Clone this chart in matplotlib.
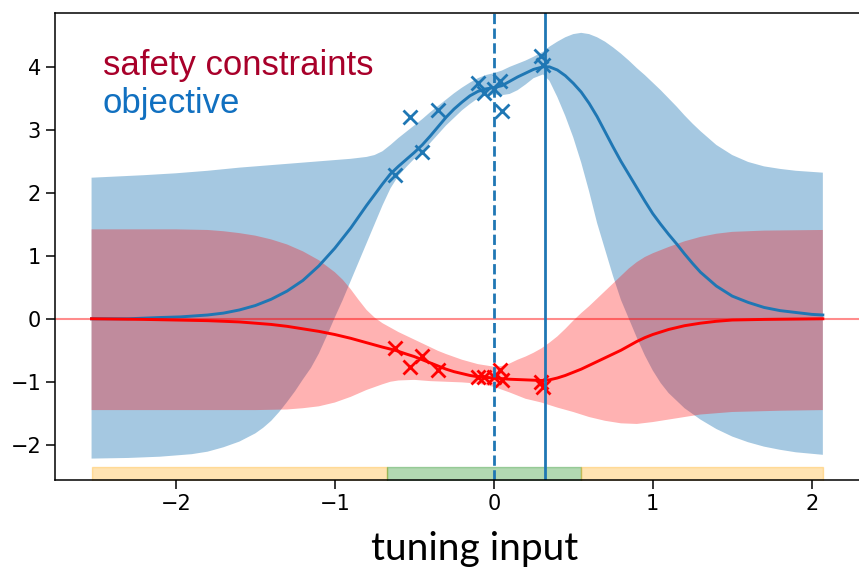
import matplotlib
matplotlib.use("Agg")
import matplotlib.pyplot as plt
import numpy as np

# ---------------- data ----------------
# objective GP: posterior mean
obj_mean_x = [-2.53, -2.3, -2.1, -1.97, -1.8, -1.7, -1.6, -1.5, -1.4, -1.3, -1.2, -1.1, -1.0,
              -0.9, -0.8, -0.7, -0.65, -0.6, -0.55, -0.5, -0.45, -0.4, -0.35, -0.3, -0.25,
              -0.2, -0.15, -0.1, -0.05, 0.0, 0.05, 0.1, 0.15, 0.2, 0.25, 0.31, 0.35, 0.4, 0.45,
              0.5, 0.55, 0.6, 0.65, 0.7, 0.75, 0.8, 0.85, 0.9, 0.95, 1.0, 1.05, 1.1, 1.15, 1.2,
              1.25, 1.3, 1.4, 1.5, 1.6, 1.7, 1.8, 1.9, 2.0, 2.07]
obj_mean_y = [0.0, 0.0, 0.02, 0.03, 0.06, 0.09, 0.14, 0.21, 0.31, 0.44, 0.61, 0.84, 1.12,
              1.44, 1.80, 2.14, 2.30, 2.42, 2.53, 2.64, 2.76, 2.90, 3.05, 3.20, 3.33,
              3.44, 3.54, 3.61, 3.65, 3.67, 3.70, 3.77, 3.84, 3.90, 3.96, 4.00, 4.00, 3.95, 3.86,
              3.74, 3.60, 3.42, 3.21, 2.97, 2.73, 2.50, 2.29, 2.08, 1.87, 1.67, 1.50, 1.34, 1.19,
              1.03, 0.88, 0.74, 0.52, 0.36, 0.26, 0.18, 0.13, 0.10, 0.07, 0.06]

# objective GP: upper edge of the confidence band
obj_up_x = [-2.53, -2.2, -2.0, -1.8, -1.6, -1.4, -1.2, -1.0, -0.9, -0.8, -0.75, -0.7, -0.65,
            -0.6, -0.55, -0.5, -0.45, -0.4, -0.35, -0.3, -0.25, -0.2, -0.15, -0.1, -0.05, 0.0,
            0.05, 0.1, 0.15, 0.2, 0.25, 0.31, 0.35, 0.4, 0.45, 0.5, 0.55, 0.6, 0.65, 0.7, 0.75,
            0.8, 0.85, 0.9, 0.95, 1.0, 1.05, 1.1, 1.15, 1.2, 1.25, 1.3, 1.4, 1.5, 1.6, 1.7, 1.8,
            1.9, 2.07]
obj_up_y = [2.24, 2.28, 2.31, 2.35, 2.40, 2.44, 2.48, 2.52, 2.54, 2.57, 2.60, 2.66, 2.76,
            2.87, 2.97, 3.07, 3.17, 3.28, 3.38, 3.48, 3.58, 3.67, 3.75, 3.82, 3.87, 3.90,
            3.94, 4.00, 4.05, 4.10, 4.16, 4.24, 4.32, 4.40, 4.47, 4.52, 4.54, 4.52, 4.47, 4.40,
            4.31, 4.21, 4.10, 3.98, 3.87, 3.75, 3.63, 3.50, 3.37, 3.23, 3.10, 2.98, 2.76, 2.60,
            2.49, 2.42, 2.38, 2.35, 2.32]

# objective GP: lower edge of the confidence band
obj_lo_x = [-2.53, -2.3, -2.1, -1.9, -1.8, -1.7, -1.6, -1.5, -1.45, -1.4, -1.35, -1.3, -1.25,
            -1.2, -1.15, -1.1, -1.05, -1.0, -0.95, -0.9, -0.85, -0.8, -0.75, -0.7, -0.65, -0.6,
            -0.55, -0.5, -0.45, -0.4, -0.35, -0.3, -0.25, -0.2, -0.15, -0.1, -0.05, 0.0, 0.05,
            0.1, 0.15, 0.2, 0.25, 0.31, 0.35, 0.4, 0.45, 0.5, 0.55, 0.6, 0.65, 0.7, 0.75, 0.8,
            0.85, 0.9, 0.95, 1.0, 1.05, 1.1, 1.2, 1.3, 1.4, 1.5, 1.6, 1.7, 1.8, 1.9, 2.07]
obj_lo_y = [-2.22, -2.21, -2.19, -2.15, -2.11, -2.04, -1.95, -1.82, -1.73, -1.62, -1.48, -1.32,
            -1.15, -0.96, -0.78, -0.55, -0.27, 0.02, 0.30, 0.60, 0.90, 1.20, 1.50, 1.80, 2.07,
            2.27, 2.41, 2.54, 2.66, 2.79, 2.93, 3.07, 3.19, 3.31, 3.41, 3.50, 3.55, 3.56, 3.55,
            3.57, 3.63, 3.72, 3.82, 3.88, 3.78, 3.52, 3.22, 2.88, 2.48, 2.02, 1.52, 1.10, 0.68,
            0.30, 0.0, -0.30, -0.58, -0.82, -1.02, -1.18, -1.42, -1.60, -1.75, -1.87, -1.96,
            -2.03, -2.08, -2.12, -2.16]

# safety-constraint GP: posterior mean
saf_mean_x = [-2.53, -2.2, -2.0, -1.8, -1.6, -1.4, -1.3, -1.2, -1.1, -1.0, -0.9, -0.8, -0.7,
              -0.62, -0.55, -0.5, -0.45, -0.4, -0.35, -0.3, -0.25, -0.2, -0.15, -0.1, -0.05,
              0.0, 0.1, 0.2, 0.3, 0.35, 0.4, 0.45, 0.5, 0.55, 0.6, 0.65, 0.7, 0.75, 0.8, 0.85,
              0.9, 0.95, 1.0, 1.1, 1.2, 1.3, 1.4, 1.5, 1.7, 2.07]
saf_mean_y = [0.0, -0.01, -0.02, -0.03, -0.05, -0.09, -0.12, -0.16, -0.20, -0.25, -0.31,
              -0.38, -0.45, -0.50, -0.56, -0.60, -0.65, -0.70, -0.75, -0.80, -0.84, -0.87,
              -0.90, -0.92, -0.93, -0.94, -0.96, -0.97, -0.98, -0.97, -0.94, -0.90, -0.85,
              -0.80, -0.74, -0.68, -0.62, -0.56, -0.50, -0.43, -0.36, -0.30, -0.25, -0.17,
              -0.11, -0.07, -0.04, -0.02, -0.01, 0.0]

# safety-constraint GP: upper edge of the band
saf_up_x = [-2.53, -2.0, -1.8, -1.7, -1.6, -1.5, -1.4, -1.3, -1.2, -1.1, -1.0, -0.95, -0.9,
            -0.85, -0.8, -0.75, -0.7, -0.65, -0.6, -0.55, -0.5, -0.45, -0.4, -0.35, -0.3, -0.2,
            -0.1, 0.0, 0.05, 0.1, 0.15, 0.2, 0.25, 0.3, 0.35, 0.4, 0.45, 0.5, 0.55, 0.6, 0.65,
            0.7, 0.75, 0.8, 0.85, 0.9, 0.95, 1.0, 1.1, 1.2, 1.3, 1.4, 1.5, 1.7, 2.07]
saf_up_y = [1.42, 1.42, 1.41, 1.39, 1.36, 1.32, 1.26, 1.18, 1.07, 0.93, 0.74, 0.62, 0.47,
            0.30, 0.14, 0.02, -0.07, -0.14, -0.21, -0.27, -0.33, -0.39, -0.45, -0.51, -0.56,
            -0.65, -0.72, -0.76, -0.75, -0.71, -0.65, -0.60, -0.54, -0.47, -0.38, -0.28, -0.16,
            -0.03, 0.09, 0.20, 0.32, 0.44, 0.56, 0.68, 0.80, 0.90, 0.98, 1.04, 1.14, 1.23,
            1.30, 1.35, 1.38, 1.40, 1.41]

# safety-constraint GP: lower edge of the band
saf_lo_x = [-2.53, -1.5, -1.3, -1.2, -1.1, -1.0, -0.9, -0.8, -0.7, -0.65, -0.6, -0.5, -0.4,
            -0.3, -0.2, -0.1, 0.0, 0.1, 0.2, 0.3, 0.4, 0.5, 0.6, 0.7, 0.8, 0.9, 1.0, 1.1, 1.2,
            1.3, 1.5, 1.8, 2.07]
saf_lo_y = [-1.45, -1.45, -1.44, -1.42, -1.39, -1.33, -1.24, -1.13, -1.04, -1.00, -0.98,
            -0.97, -0.99, -1.00, -1.01, -1.03, -1.08, -1.17, -1.27, -1.33, -1.41, -1.48,
            -1.56, -1.62, -1.66, -1.67, -1.64, -1.60, -1.56, -1.52, -1.48, -1.46, -1.45]

# evaluated points
pts_x = [-0.62, -0.53, -0.45, -0.35, -0.10, -0.06, 0.00, 0.04, 0.05, 0.30, 0.31]
pts_obj = [2.29, 3.21, 2.65, 3.31, 3.74, 3.59, 3.65, 3.78, 3.30, 4.17, 4.03]
pts_saf = [-0.47, -0.77, -0.59, -0.81, -0.92, -0.92, -0.92, -0.81, -0.97, -1.00, -1.08]

# safe-set bar at the bottom
bar_edges = [-2.53, -0.67, 0.55, 2.07]
bar_colors = ["orange", "green", "orange"]

x_start = 0.0     # dashed vertical line
x_best = 0.32     # solid vertical line

# ---------------- plot ----------------
fig = plt.figure(figsize=(8.59, 5.70), dpi=100)
ax = fig.add_axes([55 / 859, 1 - 480 / 570, (861 - 55) / 859, (480 - 12.7) / 570])

blue = "tab:blue"
lw = 2.1

# objective
ax.fill(np.array(obj_up_x + obj_lo_x[::-1]), np.array(obj_up_y + obj_lo_y[::-1]),
        color=blue, alpha=0.4, lw=0)
ax.plot(obj_mean_x, obj_mean_y, color=blue, lw=lw, solid_joinstyle="round")
ax.plot(pts_x, pts_obj, "x", color=blue, ms=10.5, mew=2.0)

# safety constraint
ax.fill(np.array(saf_up_x + saf_lo_x[::-1]), np.array(saf_up_y + saf_lo_y[::-1]),
        color="red", alpha=0.3, lw=0)
ax.plot(saf_mean_x, saf_mean_y, color="red", lw=lw, solid_joinstyle="round")
ax.plot(pts_x, pts_saf, "x", color="red", ms=10.5, mew=2.0)

ax.axhline(0, color="red", alpha=0.45, lw=1.5)
ax.axvline(x_start, color=blue, ls="--", lw=2.0)
ax.axvline(x_best, color=blue, ls="-", lw=2.0)

for i, c in enumerate(bar_colors):
    ax.fill_between([bar_edges[i], bar_edges[i + 1]], -2.7, -2.35, color=c, alpha=0.3, lw=1)

ax.set_xlim(-2.76, 2.31)
ax.set_ylim(-2.56, 4.86)
ax.set_xticks([-2, -1, 0, 1, 2])
ax.set_yticks([-2, -1, 0, 1, 2, 3, 4])
ax.tick_params(labelsize=15, length=6.5, width=1.1)
for s in ax.spines.values():
    s.set_linewidth(1.1)

fig.text(103 / 859, 1 - 75 / 570, "safety constraints", color="#a8002a",
         fontsize=25, family="Liberation Sans", va="baseline")
fig.text(103 / 859, 1 - 113 / 570, "objective", color="#1170c0",
         fontsize=25, family="Liberation Sans", va="baseline")
fig.text(475 / 859, 1 - 560 / 570, "tuning input", color="black",
         fontsize=28, family="Lato", ha="center", va="baseline")

fig.savefig("out.png", dpi=100)
